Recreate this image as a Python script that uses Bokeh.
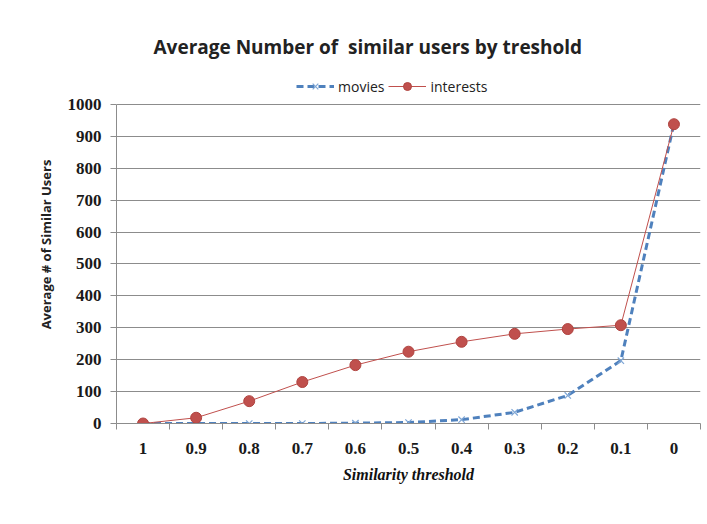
from bokeh.plotting import figure
from bokeh.models import FixedTicker, Legend, LegendItem, Title
from bokeh.embed import file_html
from bokeh.resources import INLINE

thresholds = ["1", "0.9", "0.8", "0.7", "0.6", "0.5", "0.4", "0.3", "0.2", "0.1", "0"]
movies = [0, 0, 0, 0, 1, 3, 12, 35, 88, 197, 940]
interests = [0, 18, 70, 130, 183, 225, 256, 281, 296, 308, 938]
y_ticks = [0, 100, 200, 300, 400, 500, 600, 700, 800, 900, 1000]

xs = list(range(len(thresholds)))

p = figure(width=707, height=524, output_backend="svg", toolbar_location=None,
           x_range=(-0.5, len(thresholds) - 0.5), y_range=(0, 1122),
           min_border_left=116, min_border_right=7, min_border_top=65, min_border_bottom=101)

p.title = Title(text="Average Number of \u00a0similar users by treshold", align="left",
                text_font="Open Sans", text_font_size="19px", text_font_style="bold",
                text_color="#222222", offset=37, standoff=12)

grey = "#8c8c8c"
p.outline_line_color = None
p.background_fill_color = "white"
p.border_fill_color = "white"

p.xgrid.grid_line_color = None
p.ygrid.grid_line_color = grey
p.ygrid.grid_line_width = 1
p.ygrid.ticker = FixedTicker(ticks=y_ticks)

p.yaxis.ticker = FixedTicker(ticks=y_ticks)
p.yaxis.bounds = (0, 1000)
p.yaxis.axis_line_color = grey
p.yaxis.major_tick_line_color = grey
p.yaxis.major_tick_out = 6
p.yaxis.major_tick_in = 0
p.yaxis.minor_tick_line_color = None
p.yaxis.major_label_standoff = 9
p.yaxis.major_label_text_font = "Liberation Serif"
p.yaxis.major_label_text_font_size = "17px"
p.yaxis.major_label_text_font_style = "bold"
p.yaxis.major_label_text_color = "#1a1a1a"
p.yaxis.axis_label = "Average # of Similar Users"
p.yaxis.axis_label_text_font = "Open Sans"
p.yaxis.axis_label_text_font_size = "13px"
p.yaxis.axis_label_text_font_style = "bold"
p.yaxis.axis_label_text_color = "#222222"
p.yaxis.axis_label_standoff = 10

p.xaxis.ticker = FixedTicker(ticks=xs, minor_ticks=[i - 0.5 for i in range(len(thresholds) + 1)])
p.xaxis.major_label_overrides = {i: t for i, t in enumerate(thresholds)}
p.xaxis.axis_line_color = grey
p.xaxis.major_tick_line_color = None
p.xaxis.major_tick_out = 0
p.xaxis.major_tick_in = 0
p.xaxis.minor_tick_line_color = grey
p.xaxis.minor_tick_out = 6
p.xaxis.minor_tick_in = 0
p.xaxis.major_label_standoff = 13
p.xaxis.major_label_text_font = "Liberation Serif"
p.xaxis.major_label_text_font_size = "17px"
p.xaxis.major_label_text_font_style = "bold"
p.xaxis.major_label_text_color = "#1a1a1a"
p.xaxis.axis_label = "Similarity threshold"
p.xaxis.axis_label_text_font = "Liberation Serif"
p.xaxis.axis_label_text_font_size = "16px"
p.xaxis.axis_label_text_font_style = "bold italic"
p.xaxis.axis_label_text_color = "#111111"
p.xaxis.axis_label_standoff = 9

blue = "#4F81BD"
red = "#C0504D"

l_mov = p.line(xs, movies, line_color=blue, line_width=3, line_dash="7 4")
s_mov = p.scatter(xs, movies, marker="x", size=9, line_color="#7FA7D6", line_width=1.2)
l_int = p.line(xs, interests, line_color=red, line_width=1)
s_int = p.scatter(xs, interests, marker="circle", size=11, fill_color=red, line_color="#B04440")

legend = Legend(items=[LegendItem(label="movies", renderers=[l_mov, s_mov]),
                       LegendItem(label="interests", renderers=[l_int, s_int])],
                orientation="horizontal", location=(180, 327),
                label_text_font="Open Sans", label_text_font_size="14px",
                label_text_color="#222222", border_line_color=None,
                background_fill_alpha=0, glyph_width=38, spacing=4,
                label_standoff=4, padding=2, margin=0)
p.add_layout(legend)

open("out.html", "w").write(file_html(p, INLINE))
